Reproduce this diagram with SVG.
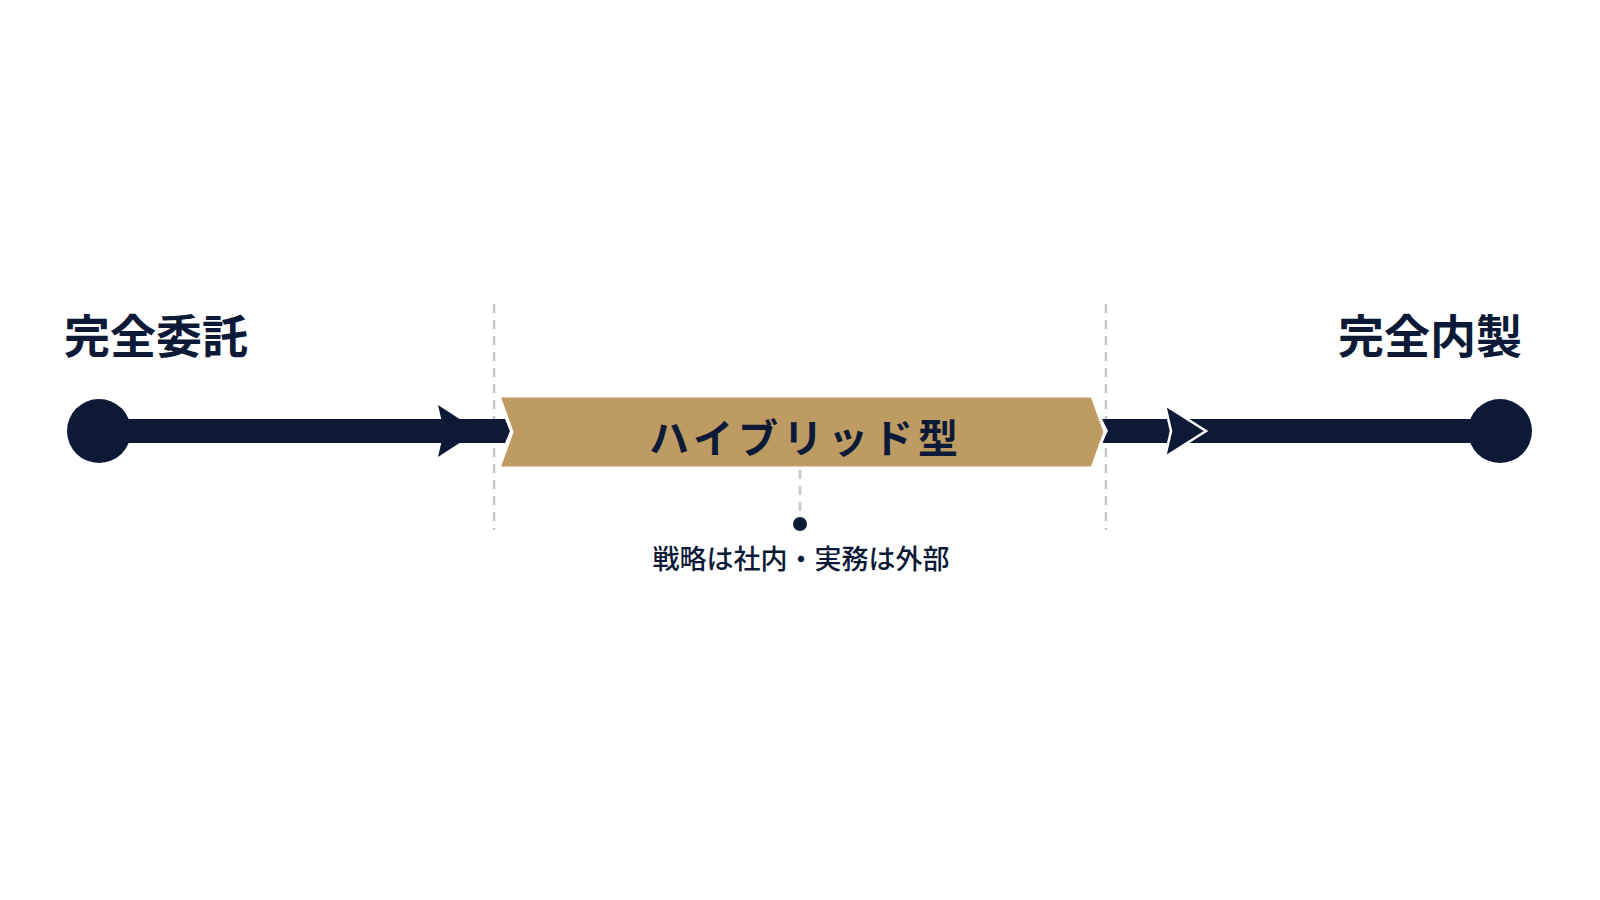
<svg xmlns="http://www.w3.org/2000/svg" width="1600" height="900" viewBox="0 0 1600 900">
<style>
.navy{fill:#0c1a38}
.dash{stroke:#c3c6cc;stroke-width:2.5;stroke-dasharray:9 7;fill:none}
.title{font-family:"Noto Sans CJK JP","Noto Sans",sans-serif;font-weight:700;font-size:46px;fill:#0c1a38}
.label{font-family:"Noto Sans CJK JP","Noto Sans",sans-serif;font-weight:500;font-size:27px;fill:#0c1a38}
.band{font-family:"Noto Sans CJK JP","Noto Sans",sans-serif;font-weight:700;font-size:40px;fill:#0c1a38;letter-spacing:5px}
</style>
<rect width="1600" height="900" fill="#ffffff"/>
<g id="guides">
<line class="dash" x1="494" y1="304" x2="494" y2="530"/>
<line class="dash" x1="1106" y1="304" x2="1106" y2="530"/>
</g>
<g id="connectors">
<polygon class="navy" points="99,419 505,419 510,431 505,443 99,443"/>
<polygon class="navy" points="438,405 478,431 438,457 444,431"/>
<polygon class="navy" points="1102,419 1500,419 1500,443 1102,443 1108,431"/>
<polygon class="navy" points="1165,405 1206,431 1165,457 1171,431" stroke="#ffffff" stroke-width="2.5" stroke-linejoin="miter"/>
<line class="dash" x1="800" y1="470" x2="800" y2="516"/>
</g>
<g id="node-left">
<circle class="navy" cx="99" cy="431" r="32"/>
<text class="title" x="64" y="353">完全委託</text>
</g>
<g id="node-right">
<circle class="navy" cx="1500" cy="431" r="32"/>
<text class="title" x="1522" y="353" text-anchor="end">完全内製</text>
</g>
<g id="node-hybrid">
<polygon points="499,396 1092,396 1105,432 1092,468 499,468 512,432" fill="#be9b62" stroke="#ffffff" stroke-width="3"/>
<text class="band" x="806" y="453" text-anchor="middle">ハイブリッド型</text>
</g>
<g id="node-note">
<circle class="navy" cx="800" cy="524" r="7"/>
<text class="label" x="801" y="569" text-anchor="middle">戦略は社内・実務は外部</text>
</g>
</svg>
